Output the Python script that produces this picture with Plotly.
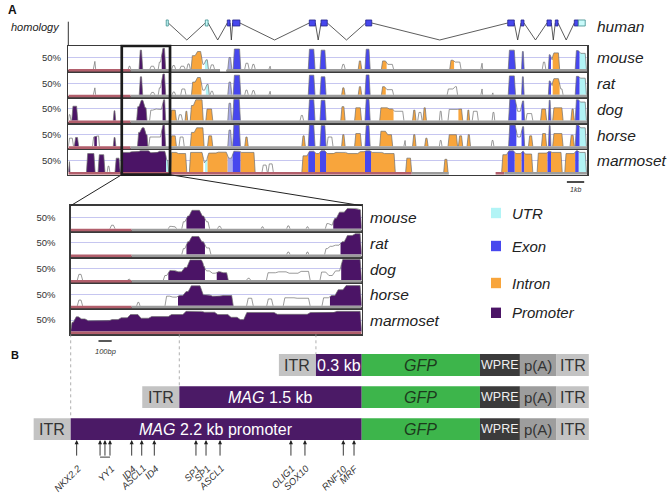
import plotly.graph_objects as go

W, H = 669, 495
FONT = "Liberation Sans, Arial, Helvetica, sans-serif"

# ------------------------------------------------------------------ data
SPECIES = ["mouse", "rat", "dog", "horse", "marmoset"]
GENOME_KB = 30.0          # width of the VISTA window (kb)
HIGHLIGHT_KB = (3.09, 5.88)
PROMOTER_BP = 2200        # zoomed promoter window (bp)

# human gene model (kb)
EXON_START_KB = [5.66, 7.92, 9.19, 9.50, 13.93, 14.61, 17.19, 25.40, 26.17, 27.67, 28.15, 29.25, 29.48]
EXON_END_KB = [5.78, 8.08, 9.35, 9.92, 14.28, 14.97, 17.54, 25.78, 26.34, 27.92, 28.31, 29.48, 29.88]
EXON_TYPE = ['U', 'U', 'E', 'E', 'E', 'E', 'E', 'E', 'E', 'E', 'E', 'E', 'U']

# conservation peaks: (start, end, % identity, class)  P promoter, I intron, E exon,
# e weak exon, U UTR, n not conserved
MAIN_PEAKS = {
    "mouse": [(1.45, 1.58, 33, 'n'), (3.47, 3.61, 12, 'n'), (4.09, 4.30, 82, 'P'), (4.72, 5.00, 12, 'n'),
              (5.20, 5.40, 30, 'n'), (5.40, 5.63, 90, 'P'), (5.98, 6.20, 15, 'n'), (6.45, 6.75, 12, 'n'),
              (6.85, 7.05, 22, 'n'), (7.10, 7.40, 58, 'I'), (7.40, 7.72, 76, 'I'), (7.72, 7.90, 20, 'n'),
              (7.90, 8.10, 40, 'U'), (8.20, 8.45, 18, 'n'), (9.22, 9.45, 50, 'e'), (9.53, 9.97, 87, 'E'),
              (10.20, 10.45, 25, 'n'), (10.60, 10.80, 20, 'n'), (11.60, 11.70, 12, 'n'), (13.87, 14.26, 86, 'E'),
              (14.55, 14.90, 82, 'E'), (15.80, 16.00, 20, 'n'), (16.76, 16.96, 35, 'I'), (17.15, 17.45, 86, 'E'),
              (18.10, 18.40, 35, 'I'), (18.40, 18.80, 20, 'n'), (22.05, 22.30, 38, 'I'), (22.30, 22.70, 30, 'n'),
              (23.85, 23.95, 25, 'n'), (25.43, 25.85, 82, 'E'), (26.20, 26.35, 76, 'E'), (27.40, 27.60, 30, 'n'),
              (27.75, 27.90, 62, 'E'), (27.90, 28.00, 40, 'n'), (28.00, 28.40, 70, 'I'), (29.30, 29.55, 80, 'E'),
              (29.55, 29.95, 68, 'U')],
    "rat": [(1.45, 1.58, 30, 'n'), (4.10, 4.30, 78, 'P'), (4.75, 5.00, 10, 'n'), (5.20, 5.40, 30, 'n'),
            (5.40, 5.63, 90, 'P'), (6.00, 6.20, 12, 'n'), (6.50, 6.80, 25, 'n'), (7.12, 7.40, 55, 'I'),
            (7.40, 7.70, 75, 'I'), (7.70, 7.95, 20, 'n'), (7.95, 8.15, 45, 'U'), (8.20, 8.40, 15, 'n'),
            (9.22, 9.45, 55, 'e'), (9.53, 9.97, 85, 'E'), (10.20, 10.40, 20, 'n'), (10.60, 10.80, 18, 'n'),
            (11.60, 11.70, 15, 'n'), (13.87, 14.26, 85, 'E'), (14.55, 14.90, 78, 'E'), (15.80, 16.00, 30, 'I'),
            (16.76, 16.96, 35, 'I'), (17.15, 17.45, 86, 'E'), (18.10, 18.35, 35, 'I'), (18.35, 18.80, 22, 'n'),
            (21.90, 22.30, 25, 'n'), (22.30, 22.50, 35, 'n'), (23.85, 23.95, 25, 'n'), (24.50, 24.56, 8, 'n'),
            (25.43, 25.85, 82, 'E'), (26.20, 26.35, 78, 'E'), (27.75, 27.90, 60, 'E'), (27.90, 28.00, 40, 'n'),
            (28.00, 28.40, 70, 'I'), (28.40, 28.60, 25, 'n'), (29.30, 29.55, 80, 'E'), (29.55, 29.95, 72, 'U')],
    "dog": [(0.00, 0.15, 25, 'n'), (0.20, 0.55, 62, 'P'), (2.60, 2.74, 42, 'P'), (3.95, 4.15, 60, 'P'),
            (4.15, 4.38, 88, 'P'), (4.38, 4.55, 55, 'P'), (4.70, 4.95, 45, 'n'), (4.95, 5.15, 50, 'n'),
            (5.15, 5.45, 48, 'n'), (5.45, 5.63, 90, 'P'), (5.90, 6.25, 45, 'I'), (6.35, 6.60, 25, 'n'),
            (6.75, 6.90, 40, 'I'), (7.05, 7.30, 65, 'I'), (7.30, 7.80, 90, 'I'), (7.95, 8.35, 50, 'I'),
            (9.22, 9.45, 75, 'e'), (9.50, 9.95, 92, 'E'), (13.40, 13.60, 22, 'n'), (13.87, 14.26, 90, 'E'),
            (14.55, 14.90, 88, 'E'), (15.75, 16.00, 60, 'I'), (16.55, 16.95, 55, 'I'), (17.15, 17.45, 92, 'E'),
            (18.00, 18.50, 55, 'I'), (18.50, 18.80, 50, 'I'), (18.80, 19.40, 40, 'n'), (19.90, 20.10, 45, 'I'),
            (20.20, 20.45, 35, 'n'), (20.50, 20.70, 55, 'I'), (21.45, 21.60, 40, 'n'), (21.95, 22.55, 48, 'n'),
            (22.55, 22.80, 50, 'I'), (23.05, 23.20, 45, 'I'), (23.35, 23.70, 40, 'n'), (24.50, 24.65, 35, 'n'),
            (25.45, 25.90, 92, 'E'), (25.90, 26.20, 40, 'n'), (26.20, 26.38, 85, 'E'), (26.45, 26.85, 30, 'n'),
            (27.30, 27.65, 50, 'I'), (27.75, 27.90, 88, 'E'), (28.00, 28.60, 55, 'I'), (29.05, 29.25, 50, 'I'),
            (29.30, 29.55, 90, 'E'), (29.55, 29.95, 80, 'U')],
    "horse": [(0.00, 0.30, 35, 'n'), (0.35, 0.60, 38, 'P'), (1.40, 1.50, 40, 'n'), (1.50, 1.65, 42, 'P'),
              (1.65, 1.80, 45, 'n'), (2.60, 2.75, 38, 'P'), (4.00, 4.20, 60, 'P'), (4.20, 4.45, 80, 'P'),
              (4.45, 4.60, 50, 'P'), (4.65, 5.40, 40, 'n'), (5.40, 5.63, 92, 'P'), (5.90, 6.25, 45, 'I'),
              (6.40, 6.70, 40, 'n'), (7.05, 7.35, 60, 'I'), (7.35, 7.85, 80, 'I'), (8.05, 8.35, 45, 'I'),
              (9.22, 9.45, 70, 'e'), (9.50, 9.95, 92, 'E'), (10.20, 10.40, 40, 'I'), (13.50, 13.70, 45, 'I'),
              (13.87, 14.26, 92, 'E'), (14.55, 14.90, 90, 'E'), (14.95, 15.30, 40, 'n'), (15.80, 16.00, 50, 'I'),
              (16.55, 16.95, 55, 'I'), (17.15, 17.45, 90, 'E'), (18.00, 18.40, 65, 'I'), (18.40, 18.75, 50, 'I'),
              (19.40, 19.50, 25, 'n'), (19.90, 20.10, 50, 'I'), (20.60, 20.80, 35, 'I'), (21.45, 21.60, 25, 'n'),
              (21.95, 22.50, 50, 'I'), (22.55, 22.80, 45, 'I'), (23.05, 23.25, 50, 'I'), (24.45, 24.60, 25, 'n'),
              (25.45, 25.90, 92, 'E'), (25.90, 26.20, 40, 'n'), (26.20, 26.38, 85, 'E'), (26.60, 26.85, 45, 'I'),
              (27.35, 27.65, 55, 'I'), (27.75, 27.90, 90, 'E'), (28.00, 28.60, 55, 'I'), (29.00, 29.25, 48, 'I'),
              (29.30, 29.55, 92, 'E'), (29.55, 29.95, 80, 'U')],
    "marmoset": [(0.00, 0.10, 45, 'P'), (1.05, 1.55, 80, 'P'), (1.72, 2.12, 75, 'P'), (2.25, 2.40, 25, 'n'),
                 (2.70, 3.00, 60, 'P'), (3.05, 3.60, 85, 'P'), (3.60, 4.10, 88, 'P'), (4.10, 4.70, 92, 'P'),
                 (4.70, 5.20, 84, 'P'), (5.20, 5.65, 90, 'P'), (5.65, 5.80, 50, 'U'), (5.90, 6.30, 85, 'I'),
                 (6.30, 6.85, 80, 'I'), (7.00, 7.80, 85, 'I'), (7.80, 7.90, 40, 'n'), (7.90, 8.05, 50, 'U'),
                 (8.05, 8.60, 82, 'I'), (8.60, 9.20, 86, 'I'), (9.20, 9.50, 60, 'e'), (9.50, 9.95, 90, 'E'),
                 (9.95, 10.80, 85, 'I'), (11.20, 11.50, 30, 'n'), (11.55, 11.85, 35, 'n'), (13.50, 13.87, 70, 'I'),
                 (13.87, 14.26, 90, 'E'), (14.26, 14.55, 80, 'I'), (14.55, 14.90, 92, 'E'), (14.90, 15.40, 80, 'I'),
                 (15.40, 16.10, 85, 'I'), (16.10, 16.80, 80, 'I'), (16.80, 17.15, 88, 'I'), (17.15, 17.50, 92, 'E'),
                 (17.50, 18.20, 85, 'I'), (18.20, 18.90, 80, 'I'), (19.50, 19.85, 60, 'I'), (21.70, 21.95, 55, 'I'),
                 (25.05, 25.40, 75, 'I'), (25.40, 25.80, 92, 'E'), (25.80, 26.20, 80, 'I'), (26.20, 26.35, 90, 'E'),
                 (26.35, 26.85, 78, 'I'), (27.10, 27.70, 82, 'I'), (27.70, 27.90, 90, 'E'), (27.90, 28.55, 85, 'I'),
                 (28.70, 29.30, 80, 'I'), (29.30, 29.50, 92, 'E'), (29.50, 29.95, 85, 'U')],
}

ZOOM_PEAKS = {
    "mouse": [(297, 335, 15, 'n'), (738, 770, 10, 'n'), (770, 800, 8, 'n'), (840, 875, 30, 'n'),
              (875, 905, 55, 'P'), (905, 985, 80, 'P'), (985, 1015, 55, 'P'), (1015, 1050, 30, 'n'),
              (1110, 1140, 10, 'n'), (1440, 1460, 8, 'n'), (1633, 1658, 12, 'n'), (1780, 1800, 8, 'n'),
              (1925, 1960, 22, 'n'), (1960, 1985, 15, 'n'), (1985, 2020, 45, 'P'), (2020, 2080, 72, 'P'),
              (2080, 2170, 88, 'P'), (2170, 2200, 82, 'P')],
    "rat": [(840, 875, 25, 'n'), (875, 905, 55, 'P'), (905, 980, 78, 'P'), (980, 1015, 55, 'P'),
            (1015, 1060, 28, 'n'), (1633, 1658, 10, 'n'), (1780, 1800, 10, 'n'), (1920, 1950, 25, 'n'),
            (1950, 1990, 35, 'n'), (1990, 2040, 40, 'n'), (2040, 2080, 55, 'P'), (2080, 2140, 82, 'P'),
            (2140, 2200, 90, 'P')],
    "dog": [(50, 90, 25, 'n'), (430, 450, 5, 'n'), (700, 738, 20, 'n'), (738, 800, 42, 'P'),
            (800, 850, 36, 'P'), (850, 890, 55, 'P'), (890, 1000, 88, 'P'), (1000, 1015, 60, 'P'),
            (1015, 1060, 40, 'n'), (1060, 1104, 30, 'n'), (1104, 1140, 37, 'P'), (1140, 1191, 32, 'P'),
            (1330, 1360, 8, 'n'), (1480, 1560, 32, 'n'), (1560, 1640, 36, 'n'), (1640, 1730, 30, 'n'),
            (1730, 1810, 38, 'n'), (1885, 1940, 35, 'n'), (1940, 1990, 20, 'n'), (1990, 2045, 40, 'n'),
            (2045, 2200, 90, 'P')],
    "horse": [(50, 90, 25, 'n'), (499, 524, 15, 'n'), (713, 760, 42, 'n'), (760, 811, 38, 'n'),
              (811, 860, 45, 'P'), (860, 900, 62, 'P'), (900, 990, 87, 'P'), (990, 1060, 48, 'P'),
              (1060, 1140, 42, 'P'), (1140, 1229, 45, 'P'), (1330, 1380, 33, 'n'), (1482, 1530, 30, 'n'),
              (1607, 1700, 35, 'n'), (1700, 1810, 33, 'n'), (1900, 1960, 35, 'n'), (1960, 2010, 45, 'P'),
              (2010, 2070, 70, 'P'), (2070, 2200, 88, 'P')],
    "marmoset": [(0, 30, 40, 'P'), (30, 70, 64, 'P'), (70, 120, 55, 'P'), (120, 300, 47, 'P'),
                 (300, 370, 52, 'P'), (370, 440, 60, 'P'), (440, 520, 74, 'P'), (520, 600, 58, 'P'),
                 (600, 750, 65, 'P'), (750, 860, 74, 'P'), (860, 1000, 88, 'P'), (1000, 1100, 84, 'P'),
                 (1100, 1200, 74, 'P'), (1200, 1270, 62, 'P'), (1270, 1320, 52, 'P'), (1320, 1550, 83, 'P'),
                 (1550, 1800, 75, 'P'), (1800, 2000, 83, 'P'), (2000, 2200, 88, 'P')],
}

# alignment coverage bars under each track: (start, end, kind) r=repeat, g=aligned, w=gap
MAIN_BARS = {
    "mouse": [(0, 3.6, 'r'), (3.6, 8.77, 'g'), (8.77, 9.15, 'w'), (9.15, 30, 'g')],
    "rat": [(0, 3.6, 'r'), (3.6, 30, 'g')],
    "dog": [(0, 3.6, 'r'), (3.6, 30, 'g')],
    "horse": [(0, 3.6, 'r'), (3.6, 30, 'g')],
    "marmoset": [(0, 19.85, 'r'), (19.85, 22.0, 'g'), (22.0, 24.7, 'w'), (24.7, 25.2, 'r'), (25.2, 30, 'g')],
}
ZOOM_BARS = {
    "mouse": [(0, 461, 'r'), (461, 2200, 'g')],
    "rat": [(0, 461, 'r'), (461, 2200, 'g')],
    "dog": [(0, 461, 'r'), (461, 2200, 'g')],
    "horse": [(0, 461, 'r'), (461, 2200, 'g')],
    "marmoset": [(0, 2200, 'r')],
}

LEGEND_NAMES = ["UTR", "Exon", "Intron", "Promoter"]
LEGEND_KEYS = ['U', 'E', 'I', 'P']

# panel B constructs (bp, schematic)
B_ROWS = [3, 2, 1]
PROMOTER_START_BP = [1854, 821, 0]
PROMOTER_LABELS = ["0.3 kb", "<i>MAG</i> 1.5 kb", "<i>MAG</i> 2.2 kb promoter"]
ITR_LEN = 280
GFP_LEN = 894
WPRE_LEN = 302
PA_LEN = 277
ITR3_LEN = 244

TF_LABELS = ["NKX2.2", "YY1", "ID4", "ASCL1", "ID4", "SP1", "SP1", "ASCL1", "OLIG1", "SOX10", "RNF10", "MRF"]
TF_LABEL_BP = [45, 297, 461, 537, 632, 947, 1023, 1129, 1665, 1771, 2061, 2142]
TF_SITES_BP = [45, 222, 259, 297, 461, 537, 632, 947, 1023, 1129, 1665, 1771, 2061, 2142]
YY1_SITES_BP = [222, 259, 297]

# ------------------------------------------------------------------ style / geometry
COL = {'P': '#4b1466', 'I': '#f8a53c', 'E': '#4747ee', 'U': '#b2f4f6', 'e': '#a9abea'}
BARCOL = {'r': '#b25f6c', 'g': '#9c9c9c', 'w': '#ffffff'}
MAIN_L, MAIN_R, MAIN_T, TRK_H = 68.3, 587.3, 46.0, 25.74
ZOOM_L, ZOOM_R, ZOOM_T, ZTRK_H = 70.7, 361.7, 205.7, 25.72
YR = [-12, 100]


def px(p):
    return p / W


def py(p):
    return 1 - p / H


def profile(segs, ramp):
    segs = sorted(segs, key=lambda s: (s[0], s[1]))
    fills, ox, oy = {}, [], []
    n = len(segs)
    for i, (s, e, h, c) in enumerate(segs):
        tp = i > 0 and abs(segs[i - 1][1] - s) < 1e-9
        tn = i < n - 1 and abs(segs[i + 1][0] - e) < 1e-9
        r = min(ramp, (e - s) / 3.0)
        pts = [(s, 0)]
        if tp:
            pts.append((s, (segs[i - 1][2] + h) / 2))
        pts += [(s + r, h), (e - r, h)]
        if tn:
            pts.append((e, (segs[i + 1][2] + h) / 2))
        pts.append((e, 0))
        if c != 'n':
            fx, fy = fills.setdefault(c, ([], []))
            for a, b in pts:
                fx.append(a)
                fy.append(b)
            fx.append(None)
            fy.append(None)
        if not tp:
            if ox:
                ox.append(None)
                oy.append(None)
            ox.append(s)
            oy.append(0)
        ox += [s + r, e - r]
        oy += [h, h]
        ox.append(e)
        oy.append((segs[i + 1][2] + h) / 2 if tn else 0)
    return fills, ox, oy


fig = go.Figure()
lay = dict(width=W, height=H, autosize=False, margin=dict(l=0, r=0, t=0, b=0),
           paper_bgcolor='white', plot_bgcolor='rgba(0,0,0,0)', showlegend=False,
           barmode='overlay', font=dict(family=FONT, color='#222'))
shapes, annos = [], []


def track_axes(idx, xl, xr, top, h, xrange, standoff):
    lay['xaxis%d' % idx] = dict(domain=[px(xl), px(xr)], range=xrange, anchor='y%d' % idx,
                                showline=True, mirror=True, linecolor='#3a3a3a', linewidth=1.4,
                                showticklabels=False, ticks='', showgrid=False, zeroline=False,
                                fixedrange=True)
    lay['yaxis%d' % idx] = dict(domain=[py(top + h), py(top)], range=YR, anchor='x%d' % idx,
                                showline=True, mirror=True, linecolor='#3a3a3a', linewidth=1.4,
                                tickvals=[50], ticktext=['50%'], ticks='', showgrid=True,
                                gridcolor='#c6c6f0', gridwidth=1, zeroline=False,
                                tickfont=dict(size=9.5, color='#333', family=FONT),
                                ticklabelstandoff=standoff, fixedrange=True)


def draw_track(idx, segs, bars, ramp):
    xa, ya = 'x%d' % idx, 'y%d' % idx
    for s, e, k in bars:
        shapes.append(dict(type='rect', xref=xa, yref=ya, x0=s, x1=e, y0=YR[0], y1=0,
                           fillcolor=BARCOL[k], line=dict(width=0), layer='above'))
    fills, ox, oy = profile(segs, ramp)
    for c in ['e', 'U', 'I', 'E', 'P']:
        if c in fills:
            fx, fy = fills[c]
            fig.add_trace(go.Scatter(x=fx, y=fy, xaxis=xa, yaxis=ya, mode='lines', fill='toself',
                                     fillcolor=COL[c], line=dict(width=0), hoverinfo='skip'))
    fig.add_trace(go.Scatter(x=ox, y=oy, xaxis=xa, yaxis=ya, mode='lines',
                             line=dict(color='#707070', width=0.7), hoverinfo='skip'))


# ---- main VISTA tracks
for i, sp in enumerate(SPECIES):
    idx = 3 + i
    top = MAIN_T + i * TRK_H
    track_axes(idx, MAIN_L, MAIN_R, top, TRK_H, [0, GENOME_KB], 4)
    draw_track(idx, MAIN_PEAKS[sp], MAIN_BARS[sp], 0.07)
    annos.append(dict(text='<i>%s</i>' % sp, x=px(595), y=py(top + TRK_H / 2 - 1), xref='paper', yref='paper',
                      xanchor='left', yanchor='middle', showarrow=False, font=dict(size=15.5, color='#222')))

# ---- zoomed promoter tracks
for i, sp in enumerate(SPECIES):
    idx = 8 + i
    top = ZOOM_T + i * ZTRK_H
    track_axes(idx, ZOOM_L, ZOOM_R, top, ZTRK_H, [0, PROMOTER_BP], 12)
    draw_track(idx, ZOOM_PEAKS[sp], ZOOM_BARS[sp], 12)
    annos.append(dict(text='<i>%s</i>' % sp, x=px(367.5), y=py(top + ZTRK_H / 2 - 1), xref='paper', yref='paper',
                      xanchor='left', yanchor='middle', showarrow=False, font=dict(size=15.5, color='#222')))

# ---- gene model (human)
lay['xaxis2'] = dict(domain=[px(MAIN_L), px(MAIN_R)], range=[0, GENOME_KB], anchor='y2', visible=False,
                     fixedrange=True)
lay['yaxis2'] = dict(domain=[py(46), py(18)], range=[-3.33, 1.33], anchor='x2', visible=False, fixedrange=True)
ix, iy = [], []
for k in range(len(EXON_START_KB) - 1):
    a, b = EXON_END_KB[k], EXON_START_KB[k + 1]
    if b - a > 0.01:
        ix += [a, (a + b) / 2, b, None]
        iy += [0.5, -2.33, 0.5, None]
fig.add_trace(go.Scatter(x=ix, y=iy, xaxis='x2', yaxis='y2', mode='lines',
                         line=dict(color='#333', width=0.8), hoverinfo='skip'))
for s, e, t in zip(EXON_START_KB, EXON_END_KB, EXON_TYPE):
    shapes.append(dict(type='rect', xref='x2', yref='y2', x0=s, x1=e, y0=0, y1=1,
                       fillcolor='#4747ee' if t == 'E' else '#c9fafa',
                       line=dict(color='#26268a' if t == 'E' else '#3c8c8c', width=0.8)))
shapes.append(dict(type='line', xref='paper', yref='paper', x0=px(MAIN_L), x1=px(MAIN_L),
                   y0=py(21.7), y1=py(46), line=dict(color='#333', width=1)))
annos.append(dict(text='<i>homology</i>', x=px(62), y=py(27.3), xref='paper', yref='paper', xanchor='right',
                  yanchor='middle', showarrow=False, font=dict(size=11, color='#222')))
annos.append(dict(text='<i>human</i>', x=px(595), y=py(26.5), xref='paper', yref='paper', xanchor='left',
                  yanchor='middle', showarrow=False, font=dict(size=15.5, color='#222')))

# highlight box and zoom connectors
kb_px = (MAIN_R - MAIN_L) / GENOME_KB
bx0 = MAIN_L + HIGHLIGHT_KB[0] * kb_px
bx1 = MAIN_L + HIGHLIGHT_KB[1] * kb_px
main_bottom = MAIN_T + 5 * TRK_H
shapes.append(dict(type='rect', xref='x3', yref='paper', x0=HIGHLIGHT_KB[0], x1=HIGHLIGHT_KB[1],
                   y0=py(main_bottom), y1=py(MAIN_T), line=dict(color='#1c1c1c', width=2.7),
                   fillcolor='rgba(0,0,0,0)'))
for (xa, xb) in [(bx0, ZOOM_L), (bx1, ZOOM_R)]:
    shapes.append(dict(type='line', xref='paper', yref='paper', x0=px(xa), y0=py(main_bottom),
                       x1=px(xb), y1=py(ZOOM_T), line=dict(color='#222', width=1)))

# 1 kb scale bar
shapes.append(dict(type='line', xref='x3', yref='paper', x0=28.82, x1=29.82, y0=py(182), y1=py(182),
                   line=dict(color='#111', width=1.3)))
annos.append(dict(text='<i>1kb</i>', x=29.32, y=py(184), xref='x3', yref='paper', showarrow=False,
                  yanchor='top', font=dict(size=7, color='#333')))

# legend
legend_y = [213, 246, 283, 312.8]
for name, key, yc in zip(LEGEND_NAMES, LEGEND_KEYS, legend_y):
    shapes.append(dict(type='rect', xref='paper', yref='paper', x0=px(491), x1=px(501),
                       y0=py(yc + 5.2), y1=py(yc - 5.2), fillcolor=COL[key], line=dict(width=0)))
    annos.append(dict(text='<i>%s</i>' % name, x=px(510), y=py(yc), xref='paper', yref='paper',
                      xanchor='left', yanchor='middle', showarrow=False, font=dict(size=15, color='#222')))

# panel labels
annos.append(dict(text='<b>A</b>', x=px(6), y=py(10), xref='paper', yref='paper', xanchor='left',
                  yanchor='middle', showarrow=False, font=dict(size=12, color='#111')))
annos.append(dict(text='<b>B</b>', x=px(8.5), y=py(355), xref='paper', yref='paper', xanchor='left',
                  yanchor='middle', showarrow=False, font=dict(size=11, color='#111')))

# ---- panel B
bp_px = (ZOOM_R - ZOOM_L) / PROMOTER_BP
ROW_PX = 32.1
ROW3_PX = 429.2
BAR_W = 0.68
lay['xaxis'] = dict(domain=[0, 1], range=[-ZOOM_L / bp_px, (W - ZOOM_L) / bp_px], visible=False, fixedrange=True)
lay['yaxis'] = dict(domain=[py(ROW3_PX + 0.5 * ROW_PX), py(ROW3_PX - 2.5 * ROW_PX)], range=[0.5, 3.5],
                    visible=False, fixedrange=True)


def row_px(r):
    return ROW3_PX - (r - 1) * ROW_PX


n = len(B_ROWS)
gfp0 = PROMOTER_BP
wpre0 = gfp0 + GFP_LEN
pa0 = wpre0 + WPRE_LEN
itr3_0 = pa0 + PA_LEN
elements = [
    ([p - ITR_LEN for p in PROMOTER_START_BP], [ITR_LEN] * n, '#c3c3c3'),
    (PROMOTER_START_BP, [PROMOTER_BP - p for p in PROMOTER_START_BP], '#4b1a66'),
    ([gfp0] * n, [GFP_LEN] * n, '#3db54b'),
    ([wpre0] * n, [WPRE_LEN] * n, '#3b3b3b'),
    ([pa0] * n, [PA_LEN] * n, '#9d9d9d'),
    ([itr3_0] * n, [ITR3_LEN] * n, '#c3c3c3'),
]
for base, length, col in elements:
    fig.add_trace(go.Bar(y=B_ROWS, x=length, base=base, orientation='h', width=BAR_W, xaxis='x', yaxis='y',
                         marker=dict(color=col, line=dict(width=0)), hoverinfo='skip'))

for r, p0, lab in zip(B_ROWS, PROMOTER_START_BP, PROMOTER_LABELS):
    items = [(p0 - ITR_LEN / 2, 'ITR', '#333', 16),
             ((p0 + PROMOTER_BP) / 2, lab, '#ffffff', 16),
             (gfp0 + GFP_LEN / 2, '<i>GFP</i>', '#1c3a1c', 16),
             (wpre0 + WPRE_LEN / 2, 'WPRE', '#f0f0f0', 12.5),
             (pa0 + PA_LEN / 2, 'p(A)', '#333', 15),
             (itr3_0 + ITR3_LEN / 2, 'ITR', '#333', 16)]
    for xc, t, c, fs in items:
        annos.append(dict(text=t, x=xc, y=r, xref='x', yref='y', showarrow=False,
                          font=dict(size=fs, color=c, family=FONT)))

# dotted guide lines from zoom panel to constructs
zoom_bottom = ZOOM_T + 5 * ZTRK_H
for r, p0 in zip(B_ROWS, PROMOTER_START_BP):
    shapes.append(dict(type='line', xref='x', yref='paper', x0=p0, x1=p0, y0=py(zoom_bottom),
                       y1=py(row_px(r) - BAR_W / 2 * ROW_PX), line=dict(color='#9a9a9a', width=0.8, dash='dot')))

# 100 bp scale bar
shapes.append(dict(type='line', xref='x', yref='paper', x0=210, x1=310, y0=py(341), y1=py(341),
                   line=dict(color='#111', width=1.4)))
annos.append(dict(text='<i>100bp</i>', x=260, y=py(344.5), xref='x', yref='paper', showarrow=False,
                  yanchor='top', font=dict(size=7.5, color='#333')))

# transcription factor sites
row3_bottom = 1 - BAR_W / 2
for s in TF_SITES_BP:
    annos.append(dict(text='', x=s, y=row3_bottom, xref='x', yref='y', showarrow=True, ax=0, ay=17,
                      arrowhead=2, arrowsize=0.9, arrowwidth=0.9, arrowcolor='#222', standoff=0))
tail_px = ROW3_PX + BAR_W / 2 * ROW_PX + 17
shapes.append(dict(type='line', xref='x', yref='paper', x0=min(YY1_SITES_BP), x1=max(YY1_SITES_BP),
                   y0=py(tail_px), y1=py(tail_px), line=dict(color='#222', width=0.9)))
for name, s in zip(TF_LABELS, TF_LABEL_BP):
    annos.append(dict(text='<i>%s</i>' % name, x=s, y=py(tail_px + 3), xref='x', yref='paper',
                      xanchor='right', yanchor='top', textangle=-45, xshift=9, showarrow=False,
                      font=dict(size=9.5, color='#333')))

lay['shapes'] = shapes
lay['annotations'] = annos
fig.update_layout(**lay)
fig.write_html("out.html", config={'displayModeBar': False, 'staticPlot': True},
               post_script="document.body.style.margin='0';document.body.style.padding='0';")
